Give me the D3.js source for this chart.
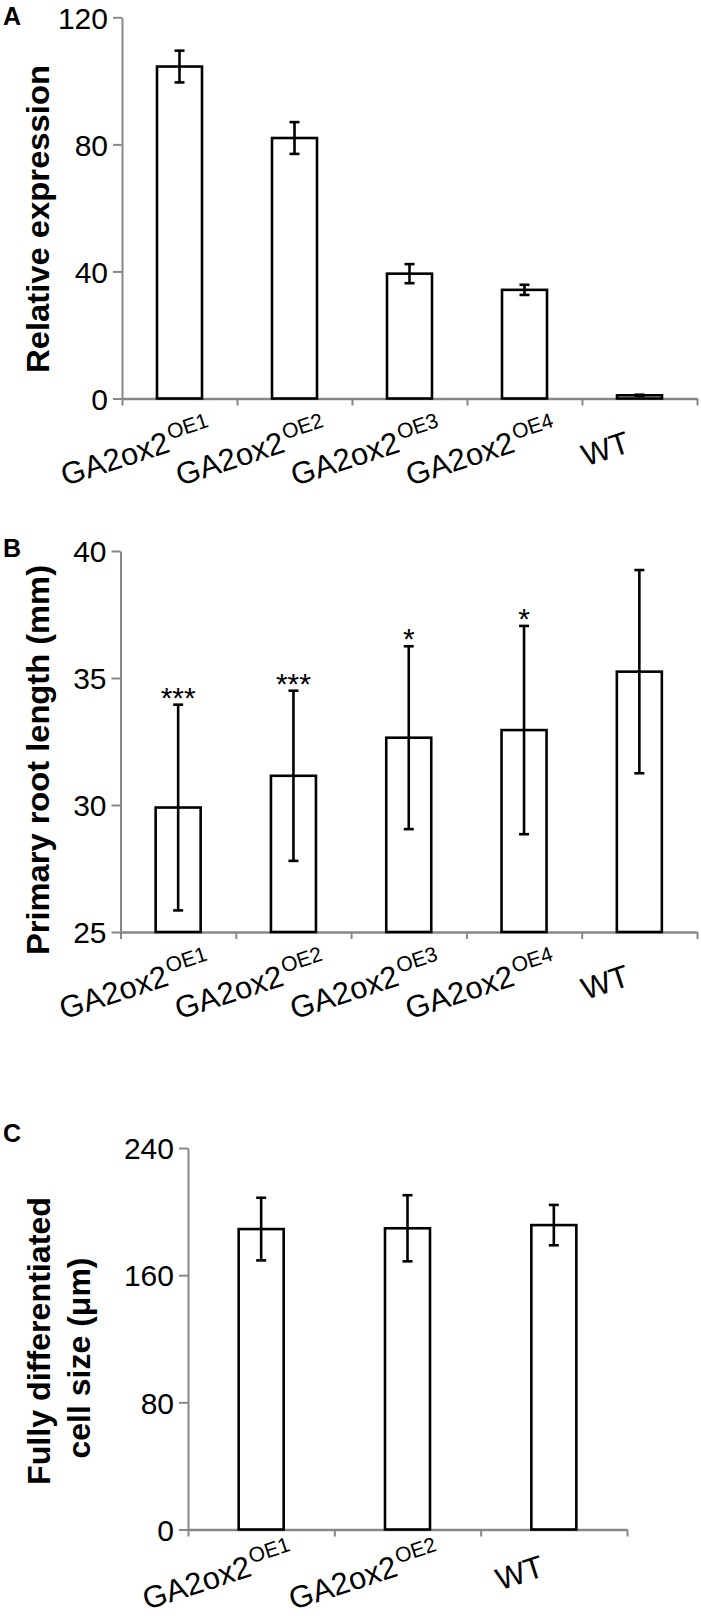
<!DOCTYPE html>
<html>
<head>
<meta charset="utf-8">
<script src="https://cdn.jsdelivr.net/npm/d3@7"></script>
<style>
  html, body { margin: 0; padding: 0; background: #fff; }
  svg { display: block; }
  text { font-family: "Liberation Sans", Arial, sans-serif; }
</style>
</head>
<body>
<svg id="chart" width="701" height="1619"></svg>
<script>
// ---------- Data ----------
// Panel A: relative expression
const catsA = ["GA2ox2|OE1", "GA2ox2|OE2", "GA2ox2|OE3", "GA2ox2|OE4", "WT"];
const valsA = [104.5, 82, 39.3, 34.2, 1.0];
const errsA = [5.0, 5.0, 3.0, 1.6, 0.2];
const ticksA = [0, 40, 80, 120];

// Panel B: primary root length (mm)
const catsB = ["GA2ox2|OE1", "GA2ox2|OE2", "GA2ox2|OE3", "GA2ox2|OE4", "WT"];
const valsB = [29.9, 31.15, 32.65, 32.95, 35.25];
const errsB = [4.05, 3.35, 3.6, 4.1, 4.0];
const starsB = ["***", "***", "*", "*", ""];
const ticksB = [25, 30, 35, 40];

// Panel C: fully differentiated cell size (µm)
const catsC = ["GA2ox2|OE1", "GA2ox2|OE2", "WT"];
const valsC = [189, 189.5, 191.5];
const errsC = [19.7, 20.8, 12.7];
const ticksC = [0, 80, 160, 240];

// ---------- Drawing ----------
const svg = d3.select("#chart");
const AXIS_COLOR = "#878787";
const BAR_W = 45;

function drawPanel(cfg) {
  const g = svg.append("g");
  const y = d3.scaleLinear().domain(cfg.domain).range(cfg.yRange);
  const x = d3.scaleBand().domain(d3.range(cfg.cats.length)).range(cfg.xRange).padding(0);
  const xi = d3.scaleLinear().domain([0, cfg.cats.length]).range(cfg.xRange);
  const baseY = y(cfg.domain[0]);

  // y axis
  const yAx = g.append("g")
    .attr("transform", `translate(${cfg.xRange[0]},0)`)
    .call(d3.axisLeft(y).tickValues(cfg.ticks).tickSize(9).tickSizeOuter(0).tickPadding(5).tickFormat(d3.format("d")));
  yAx.attr("font-size", null).attr("font-family", null);
  yAx.select(".domain").attr("stroke", AXIS_COLOR).attr("stroke-width", 2);
  yAx.selectAll(".tick line").attr("stroke", AXIS_COLOR).attr("stroke-width", 2);
  yAx.selectAll(".tick text")
    .style("font-size", "30px").style("font-family", '"Liberation Sans", Arial, sans-serif')
    .attr("fill", "#000").attr("dy", "0.36em");

  // x axis (ticks at category boundaries)
  const xAx = g.append("g")
    .attr("transform", `translate(0,${baseY})`)
    .call(d3.axisBottom(xi).tickValues(d3.range(cfg.cats.length + 1)).tickSize(7).tickSizeOuter(0).tickFormat(""));
  xAx.select(".domain").attr("stroke", AXIS_COLOR).attr("stroke-width", 2.5);
  xAx.selectAll(".tick line").attr("stroke", AXIS_COLOR).attr("stroke-width", 2);

  // bars
  g.selectAll("rect.bar").data(cfg.vals).join("rect")
    .attr("class", "bar")
    .attr("x", (d, i) => x(i) + x.bandwidth() / 2 - BAR_W / 2)
    .attr("y", d => y(d))
    .attr("width", BAR_W)
    .attr("height", d => baseY - y(d))
    .attr("fill", "#fff").attr("stroke", "#000").attr("stroke-width", 2.6);

  // error bars
  const eb = g.selectAll("g.err").data(cfg.vals).join("g").attr("class", "err");
  eb.append("line")
    .attr("x1", (d, i) => x(i) + x.bandwidth() / 2).attr("x2", (d, i) => x(i) + x.bandwidth() / 2)
    .attr("y1", (d, i) => y(d + cfg.errs[i])).attr("y2", (d, i) => y(d - cfg.errs[i]))
    .attr("stroke", "#000").attr("stroke-width", 2.6);
  [1, -1].forEach(s => {
    eb.append("line")
      .attr("x1", (d, i) => x(i) + x.bandwidth() / 2 - 5).attr("x2", (d, i) => x(i) + x.bandwidth() / 2 + 5)
      .attr("y1", (d, i) => y(d + s * cfg.errs[i])).attr("y2", (d, i) => y(d + s * cfg.errs[i]))
      .attr("stroke", "#000").attr("stroke-width", 2.6);
  });

  // significance stars
  if (cfg.stars) {
    g.selectAll("text.star").data(cfg.stars).join("text")
      .attr("class", "star")
      .attr("x", (d, i) => x(i) + x.bandwidth() / 2)
      .attr("y", (d, i) => y(cfg.vals[i] + cfg.errs[i]) + 3)
      .attr("text-anchor", "middle").style("font-size", "30px").attr("fill", "#000")
      .text(d => d);
  }

  // category labels (rotated)
  const lab = g.selectAll("g.xlab").data(cfg.cats).join("g")
    .attr("class", "xlab")
    .attr("transform", (d, i) => `translate(${x(i) + x.bandwidth() / 2 - 8},${baseY + cfg.labelDy}) rotate(-18)`);
  lab.append("text")
    .attr("text-anchor", "end").style("font-size", "31px").attr("fill", "#000")
    .text(d => d.split("|")[0]);
  lab.filter(d => d.includes("|")).append("text")
    .attr("x", 2).attr("y", -12)
    .attr("text-anchor", "start").style("font-size", "21px").attr("fill", "#000")
    .text(d => d.split("|")[1]);

  // y title
  cfg.title.forEach(t => {
    g.append("text")
      .attr("transform", `translate(${t.x},${t.cy}) rotate(-90)`)
      .attr("text-anchor", "middle").style("font-size", t.fs + "px").attr("font-weight", "bold").attr("fill", "#000")
      .attr("textLength", t.len).attr("lengthAdjust", "spacingAndGlyphs")
      .text(t.text);
  });

  // panel letter
  g.append("text").attr("x", 3).attr("y", cfg.letterY)
    .style("font-size", "25px").attr("font-weight", "bold").attr("fill", "#000").text(cfg.letter);
}

drawPanel({
  cats: catsA, vals: valsA, errs: errsA, ticks: ticksA,
  domain: [0, 120], yRange: [398.5, 17.3], xRange: [122, 697], labelDy: 53,
  title: [{ text: "Relative expression", x: 49, cy: 219, len: 308, fs: 32 }],
  letter: "A", letterY: 25
});

drawPanel({
  cats: catsB, vals: valsB, errs: errsB, ticks: ticksB, stars: starsB,
  domain: [25, 40], yRange: [932, 551], xRange: [120.5, 697], labelDy: 53,
  title: [{ text: "Primary root length (mm)", x: 49, cy: 760, len: 390, fs: 32 }],
  letter: "B", letterY: 557
});

drawPanel({
  cats: catsC, vals: valsC, errs: errsC, ticks: ticksC,
  domain: [0, 240], yRange: [1529.5, 1148], xRange: [188, 627], labelDy: 46,
  title: [
    { text: "Fully differentiated", x: 50, cy: 1341, len: 288, fs: 32 },
    { text: "cell size (\u03BCm)", x: 90, cy: 1358, len: 201, fs: 32 }
  ],
  letter: "C", letterY: 1142
});
</script>
</body>
</html>
